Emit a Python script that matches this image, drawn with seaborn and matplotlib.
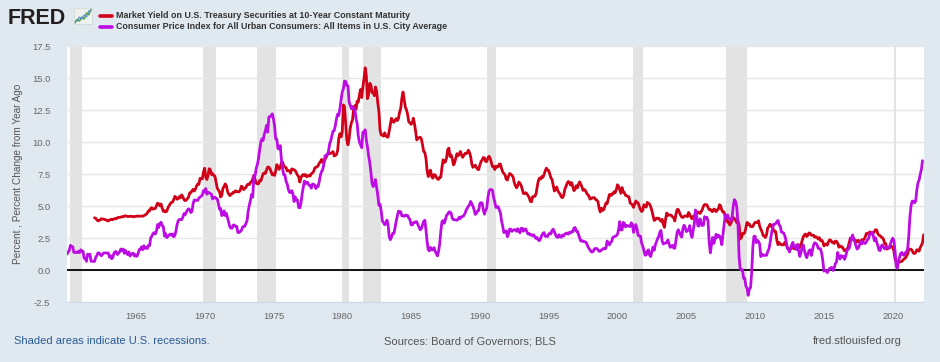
import matplotlib
matplotlib.use("Agg")
import matplotlib.pyplot as plt
import matplotlib.dates as mdates
from matplotlib.lines import Line2D
import numpy as np
import pandas as pd
import seaborn as sns

# monthly 10-year treasury yield, Jan 1962 .. Apr 2022 (peaks nudged to the daily highs seen in the chart)
gs10 = [
    4.08, 4.04, 3.93, 3.84, 3.87, 3.91, 4.01, 3.98, 3.98, 3.93, 3.92, 3.86,
    3.83, 3.92, 3.93, 3.97, 3.93, 3.99, 4.02, 4.00, 4.08, 4.11, 4.12, 4.13,
    4.17, 4.15, 4.22, 4.23, 4.20, 4.17, 4.19, 4.19, 4.20, 4.19, 4.15, 4.18,
    4.19, 4.21, 4.21, 4.20, 4.21, 4.21, 4.20, 4.25, 4.29, 4.35, 4.45, 4.62,
    4.61, 4.83, 4.87, 4.75, 4.78, 4.81, 5.02, 5.22, 5.18, 5.01, 5.16, 4.84,
    4.58, 4.63, 4.54, 4.59, 4.85, 5.02, 5.16, 5.28, 5.30, 5.48, 5.75, 5.70,
    5.53, 5.56, 5.74, 5.64, 5.87, 5.72, 5.50, 5.42, 5.46, 5.58, 5.70, 6.03,
    6.04, 6.19, 6.30, 6.17, 6.32, 6.57, 6.72, 6.69, 7.16, 7.10, 7.14, 7.65,
    7.95, 7.24, 7.07, 7.39, 7.91, 7.84, 7.46, 7.53, 7.39, 7.33, 6.84, 6.39,
    6.24, 6.11, 5.70, 5.83, 6.39, 6.52, 6.73, 6.58, 6.14, 5.93, 5.81, 5.93,
    5.95, 6.08, 6.07, 6.19, 6.13, 6.11, 6.11, 6.21, 6.55, 6.48, 6.28, 6.36,
    6.46, 6.64, 6.71, 6.67, 6.85, 6.90, 7.13, 7.40, 7.09, 6.79, 6.73, 6.74,
    6.99, 6.96, 7.21, 7.51, 7.58, 7.54, 7.81, 8.04, 8.04, 7.90, 7.68, 7.43,
    7.50, 7.39, 7.73, 8.23, 8.06, 7.86, 8.06, 8.40, 8.43, 8.14, 8.05, 8.00,
    7.74, 7.79, 7.73, 7.56, 7.90, 7.86, 7.83, 7.77, 7.59, 7.41, 7.29, 6.87,
    7.21, 7.39, 7.46, 7.37, 7.46, 7.28, 7.33, 7.40, 7.34, 7.52, 7.58, 7.69,
    7.96, 8.03, 8.04, 8.15, 8.35, 8.46, 8.64, 8.41, 8.42, 8.64, 8.81, 9.01,
    9.10, 9.10, 9.12, 9.18, 9.25, 8.91, 8.95, 9.03, 9.33, 10.30, 10.65, 10.39,
    10.80, 12.90, 12.75, 11.47, 10.18, 9.78, 10.25, 11.10, 11.51, 11.75, 12.68, 12.84,
    12.57, 13.19, 13.12, 13.68, 14.10, 13.47, 14.28, 14.94, 15.80, 15.15, 13.39, 13.72,
    14.59, 14.43, 13.86, 13.87, 13.62, 14.30, 13.95, 13.06, 12.34, 10.91, 10.55, 10.54,
    10.46, 10.72, 10.51, 10.40, 10.38, 10.85, 11.38, 11.85, 11.65, 11.54, 11.69, 11.83,
    11.67, 11.84, 12.32, 12.63, 13.41, 13.90, 13.36, 12.72, 12.52, 12.16, 11.57, 11.50,
    11.38, 11.51, 11.86, 11.43, 10.85, 10.16, 10.31, 10.33, 10.37, 10.24, 9.78, 9.26,
    9.19, 8.70, 7.78, 7.30, 7.71, 7.80, 7.30, 7.17, 7.45, 7.43, 7.25, 7.11,
    7.08, 7.25, 7.25, 8.02, 8.61, 8.40, 8.45, 8.76, 9.42, 9.52, 8.86, 8.99,
    8.67, 8.21, 8.37, 8.72, 9.09, 8.92, 9.06, 9.26, 8.98, 8.80, 8.96, 9.11,
    9.09, 9.17, 9.36, 9.18, 8.86, 8.28, 8.02, 8.11, 8.19, 8.01, 7.87, 7.84,
    8.21, 8.47, 8.59, 8.79, 8.76, 8.48, 8.47, 8.75, 8.89, 8.72, 8.39, 8.08,
    8.09, 7.85, 8.11, 8.04, 8.07, 8.28, 8.27, 7.90, 7.65, 7.53, 7.42, 7.09,
    7.03, 7.34, 7.54, 7.48, 7.39, 7.26, 6.84, 6.59, 6.42, 6.59, 6.87, 6.77,
    6.60, 6.26, 5.98, 5.97, 6.04, 5.96, 5.81, 5.68, 5.36, 5.33, 5.72, 5.77,
    5.75, 5.97, 6.48, 6.97, 7.18, 7.10, 7.30, 7.24, 7.46, 7.74, 7.96, 7.81,
    7.78, 7.47, 7.20, 7.06, 6.63, 6.17, 6.28, 6.49, 6.20, 6.04, 5.93, 5.71,
    5.65, 5.81, 6.27, 6.51, 6.74, 6.91, 6.87, 6.64, 6.83, 6.53, 6.20, 6.30,
    6.58, 6.42, 6.69, 6.89, 6.71, 6.49, 6.22, 6.30, 6.21, 6.03, 5.88, 5.81,
    5.54, 5.57, 5.65, 5.64, 5.65, 5.50, 5.46, 5.34, 4.81, 4.53, 4.83, 4.65,
    4.72, 5.00, 5.23, 5.18, 5.54, 5.90, 5.79, 5.94, 5.92, 6.11, 6.03, 6.28,
    6.66, 6.52, 6.26, 5.99, 6.44, 6.10, 6.05, 5.83, 5.80, 5.74, 5.72, 5.24,
    5.16, 5.10, 4.89, 5.14, 5.39, 5.28, 5.24, 4.97, 4.73, 4.57, 4.65, 5.09,
    5.04, 4.91, 5.28, 5.21, 5.16, 4.93, 4.65, 4.26, 3.87, 3.94, 4.05, 4.03,
    4.05, 3.90, 3.81, 3.96, 3.57, 3.33, 3.98, 4.45, 4.27, 4.29, 4.30, 4.27,
    4.15, 4.08, 3.83, 4.35, 4.72, 4.73, 4.50, 4.28, 4.13, 4.10, 4.19, 4.23,
    4.22, 4.17, 4.50, 4.34, 4.14, 4.00, 4.18, 4.26, 4.20, 4.46, 4.54, 4.47,
    4.42, 4.57, 4.72, 4.99, 5.11, 5.11, 5.09, 4.88, 4.72, 4.73, 4.60, 4.56,
    4.76, 4.72, 4.56, 4.69, 4.75, 5.10, 5.00, 4.67, 4.52, 4.53, 4.15, 4.10,
    3.74, 3.74, 3.51, 3.68, 3.88, 4.10, 4.01, 3.89, 3.69, 3.81, 3.53, 2.42,
    2.52, 2.87, 2.82, 2.93, 3.29, 3.72, 3.56, 3.59, 3.40, 3.39, 3.40, 3.59,
    3.73, 3.69, 3.73, 3.85, 3.42, 3.20, 3.01, 2.70, 2.65, 2.54, 2.76, 3.29,
    3.39, 3.58, 3.41, 3.46, 3.17, 3.00, 3.00, 2.30, 1.98, 2.15, 2.01, 1.98,
    1.97, 1.97, 2.17, 2.05, 1.80, 1.62, 1.53, 1.68, 1.72, 1.75, 1.65, 1.72,
    1.91, 1.98, 1.96, 1.76, 1.93, 2.30, 2.58, 2.74, 2.81, 2.62, 2.72, 2.90,
    2.86, 2.71, 2.72, 2.71, 2.56, 2.60, 2.54, 2.42, 2.53, 2.30, 2.33, 2.21,
    1.88, 1.98, 2.04, 1.94, 2.20, 2.36, 2.32, 2.17, 2.17, 2.07, 2.26, 2.24,
    2.09, 1.78, 1.89, 1.81, 1.81, 1.64, 1.50, 1.56, 1.63, 1.76, 2.14, 2.49,
    2.43, 2.42, 2.48, 2.30, 2.30, 2.19, 2.32, 2.21, 2.20, 2.36, 2.35, 2.40,
    2.58, 2.86, 2.84, 2.87, 2.98, 2.91, 2.89, 2.89, 3.00, 3.15, 3.12, 2.83,
    2.71, 2.68, 2.57, 2.53, 2.40, 2.07, 2.06, 1.63, 1.70, 1.71, 1.81, 1.86,
    1.76, 1.50, 0.87, 0.66, 0.67, 0.73, 0.62, 0.65, 0.68, 0.79, 0.87, 0.93,
    1.08, 1.26, 1.61, 1.64, 1.62, 1.52, 1.32, 1.28, 1.37, 1.58, 1.56, 1.47,
    1.76, 1.93, 2.13, 2.75,
]

# CPI, percent change from year ago, Jan 1960 .. Mar 2022
cpi_yoy = [
    1.24, 1.41, 1.52, 1.93, 1.82, 1.82, 1.37, 1.37, 1.37, 1.36, 1.47, 1.36,
    1.58, 1.47, 1.47, 0.92, 0.92, 0.68, 1.24, 1.13, 1.24, 0.68, 0.68, 0.68,
    0.67, 1.00, 1.11, 1.33, 1.33, 1.22, 1.11, 1.22, 1.33, 1.33, 1.33, 1.33,
    1.33, 1.00, 1.11, 0.88, 0.99, 1.32, 1.43, 1.43, 1.21, 1.32, 1.43, 1.64,
    1.53, 1.64, 1.31, 1.53, 1.31, 1.20, 1.41, 1.09, 1.19, 1.30, 1.30, 1.08,
    1.18, 1.07, 1.28, 1.60, 1.60, 1.81, 1.58, 1.90, 1.69, 1.79, 1.68, 1.92,
    1.91, 2.53, 2.63, 2.84, 2.92, 2.81, 3.03, 3.55, 3.33, 3.64, 3.73, 3.49,
    3.37, 2.65, 2.85, 2.53, 2.63, 2.73, 2.81, 2.71, 2.81, 2.60, 2.69, 3.05,
    3.55, 3.86, 3.95, 3.94, 3.93, 4.12, 4.41, 4.31, 4.50, 4.69, 4.78, 4.71,
    4.49, 4.60, 5.19, 5.47, 5.46, 5.43, 5.44, 5.62, 5.70, 5.77, 5.85, 6.20,
    6.09, 6.36, 5.92, 6.07, 6.04, 5.98, 5.91, 5.55, 5.64, 5.69, 5.60, 5.57,
    5.16, 4.75, 4.80, 4.25, 4.33, 4.62, 4.25, 4.42, 4.06, 3.70, 3.38, 3.27,
    3.27, 3.51, 3.51, 3.41, 3.41, 2.93, 2.93, 3.01, 3.08, 3.33, 3.42, 3.41,
    3.65, 3.87, 4.58, 5.07, 5.45, 5.91, 5.69, 7.38, 7.36, 7.94, 8.25, 8.71,
    9.39, 10.00, 10.24, 10.11, 10.58, 10.88, 11.29, 10.77, 11.95, 11.97, 12.06, 12.20,
    11.80, 11.23, 10.25, 10.21, 9.47, 9.47, 9.72, 8.60, 7.91, 7.44, 7.44, 6.94,
    6.72, 6.29, 6.07, 6.05, 6.20, 5.97, 5.35, 5.71, 5.49, 5.46, 4.88, 4.86,
    5.21, 5.96, 6.44, 6.95, 6.73, 6.87, 6.83, 6.62, 6.60, 6.39, 6.72, 6.70,
    6.62, 6.36, 6.57, 6.52, 6.92, 7.41, 7.70, 7.83, 8.31, 8.93, 8.92, 9.02,
    9.28, 9.86, 10.09, 10.49, 10.85, 10.89, 11.26, 11.82, 12.18, 12.07, 12.61, 13.29,
    13.91, 14.18, 14.76, 14.73, 14.41, 14.38, 13.13, 12.87, 12.60, 12.77, 12.65, 12.52,
    11.83, 11.41, 10.49, 10.00, 9.78, 9.55, 10.76, 10.80, 10.95, 10.14, 9.59, 8.92,
    8.39, 7.62, 6.78, 6.51, 6.68, 7.06, 6.44, 5.85, 5.04, 5.14, 4.59, 3.83,
    3.71, 3.53, 3.61, 3.90, 3.55, 2.58, 2.36, 2.58, 2.86, 2.85, 3.27, 3.79,
    4.19, 4.60, 4.48, 4.56, 4.23, 4.22, 4.20, 4.29, 4.27, 4.26, 4.05, 3.95,
    3.53, 3.52, 3.70, 3.69, 3.77, 3.77, 3.55, 3.35, 3.14, 3.23, 3.51, 3.80,
    3.89, 3.11, 2.26, 1.59, 1.49, 1.77, 1.58, 1.57, 1.75, 1.47, 1.28, 1.10,
    1.46, 2.10, 3.03, 3.78, 3.86, 3.65, 3.93, 4.28, 4.36, 4.53, 4.53, 4.43,
    4.03, 3.93, 3.93, 3.91, 3.89, 3.96, 4.13, 4.02, 4.17, 4.17, 4.25, 4.42,
    4.67, 4.83, 4.98, 5.10, 5.36, 5.17, 4.98, 4.71, 4.34, 4.45, 4.61, 4.65,
    5.20, 5.26, 5.23, 4.71, 4.36, 4.67, 4.82, 5.62, 6.16, 6.29, 6.27, 6.25,
    5.65, 5.31, 4.90, 4.89, 4.95, 4.70, 4.45, 3.80, 3.39, 2.92, 2.99, 3.06,
    2.60, 2.82, 3.20, 3.18, 3.02, 3.09, 3.16, 3.14, 3.02, 3.23, 3.05, 2.90,
    3.26, 3.25, 3.03, 3.16, 3.21, 2.99, 2.81, 2.85, 2.73, 2.77, 2.67, 2.75,
    2.56, 2.47, 2.54, 2.34, 2.29, 2.47, 2.70, 2.87, 2.92, 2.63, 2.65, 2.61,
    2.81, 2.89, 2.81, 3.10, 3.19, 3.00, 2.76, 2.58, 2.55, 2.76, 2.61, 2.56,
    2.73, 2.65, 2.80, 2.86, 2.89, 2.80, 2.94, 2.89, 3.00, 2.98, 3.27, 3.32,
    3.04, 3.03, 2.78, 2.50, 2.26, 2.30, 2.22, 2.22, 2.20, 2.10, 1.86, 1.70,
    1.57, 1.43, 1.40, 1.47, 1.67, 1.67, 1.68, 1.57, 1.46, 1.47, 1.57, 1.62,
    1.69, 1.64, 1.72, 2.26, 2.09, 1.96, 2.13, 2.25, 2.56, 2.59, 2.63, 2.68,
    2.79, 3.19, 3.78, 3.13, 3.13, 3.72, 3.65, 3.36, 3.49, 3.46, 3.42, 3.39,
    3.69, 3.57, 2.94, 3.27, 3.55, 3.23, 2.71, 2.66, 2.65, 2.12, 1.87, 1.55,
    1.16, 1.17, 1.47, 1.58, 1.16, 1.05, 1.45, 1.79, 1.54, 1.97, 2.20, 2.46,
    2.62, 2.97, 3.09, 2.24, 2.03, 2.10, 2.10, 2.17, 2.35, 2.04, 1.77, 1.86,
    1.93, 1.71, 1.70, 2.30, 2.92, 3.15, 2.96, 2.70, 2.57, 3.21, 3.50, 3.33,
    3.00, 3.08, 3.11, 3.47, 2.85, 2.55, 3.08, 3.63, 4.69, 4.32, 3.46, 3.43,
    3.99, 3.64, 3.47, 3.51, 4.17, 4.06, 4.12, 3.80, 2.13, 1.34, 2.03, 2.54,
    2.08, 2.40, 2.79, 2.55, 2.72, 2.66, 2.45, 1.98, 2.76, 3.52, 4.33, 4.08,
    4.30, 4.07, 3.98, 3.84, 4.15, 5.02, 5.50, 5.34, 4.92, 3.72, 1.04, 0.09,
    -0.01, 0.02, -0.64, -0.65, -1.26, -1.42, -1.98, -1.48, -1.38, -0.23, 1.79, 2.63,
    2.63, 2.14, 2.31, 2.24, 2.02, 1.05, 1.24, 1.15, 1.14, 1.17, 1.14, 1.44,
    1.63, 2.11, 2.68, 3.16, 3.57, 3.56, 3.63, 3.77, 3.87, 3.53, 3.39, 2.96,
    2.93, 2.87, 2.65, 2.30, 1.70, 1.66, 1.41, 1.69, 1.99, 2.16, 1.76, 1.74,
    1.60, 1.98, 1.47, 1.06, 1.36, 1.75, 1.96, 1.52, 1.18, 0.96, 1.24, 1.50,
    1.58, 1.13, 1.51, 1.95, 2.13, 2.07, 1.99, 1.70, 1.66, 1.66, 1.32, 0.76,
    -0.09, -0.02, -0.07, -0.20, -0.04, 0.12, 0.17, 0.20, -0.04, 0.17, 0.50, 0.65,
    1.37, 1.02, 0.85, 1.13, 1.02, 1.08, 0.83, 1.08, 1.46, 1.64, 1.69, 2.07,
    2.50, 2.74, 2.38, 2.20, 1.87, 1.63, 1.73, 1.94, 2.23, 2.04, 2.20, 2.11,
    2.07, 2.21, 2.36, 2.46, 2.80, 2.87, 2.95, 2.70, 2.28, 2.52, 2.18, 1.91,
    1.55, 1.52, 1.86, 1.96, 1.79, 1.65, 1.81, 1.75, 1.71, 1.76, 2.05, 2.29,
    2.49, 2.33, 1.54, 0.33, 0.12, 0.65, 1.00, 1.31, 1.37, 1.18, 1.14, 1.36,
    1.40, 1.68, 2.62, 4.16, 4.99, 5.39, 5.37, 5.25, 5.39, 6.24, 6.81, 7.04,
    7.48, 7.87, 8.54,
]

recession_start = ["1960-04-01", "1969-12-01", "1973-11-01", "1980-01-01", "1981-07-01",
                   "1990-07-01", "2001-03-01", "2007-12-01", "2020-02-01"]
recession_end = ["1961-02-01", "1970-11-01", "1975-03-01", "1980-07-01", "1982-11-01",
                 "1991-03-01", "2001-11-01", "2009-06-01", "2020-04-01"]

name_gs10 = "Market Yield on U.S. Treasury Securities at 10-Year Constant Maturity"
name_cpi = "Consumer Price Index for All Urban Consumers: All Items in U.S. City Average"
red = "#d10019"
purple = "#bd0be3"
bg = "#e1e9f0"

df = pd.concat([
    pd.DataFrame({"date": pd.date_range("1962-01-01", periods=len(gs10), freq="MS"),
                  "value": gs10, "series": name_gs10}),
    pd.DataFrame({"date": pd.date_range("1960-01-01", periods=len(cpi_yoy), freq="MS"),
                  "value": cpi_yoy, "series": name_cpi}),
])

sns.set_style("white")
plt.rcParams["font.family"] = ["Liberation Sans", "DejaVu Sans"]

fig = plt.figure(figsize=(9.4, 3.62), dpi=100, facecolor=bg)
ax = fig.add_axes([67 / 940, 60 / 362, 857 / 940, 256 / 362])
ax.set_facecolor("white")

for s, e in zip(recession_start, recession_end):
    ax.axvspan(pd.Timestamp(s), pd.Timestamp(e), color="#e3e3e3", lw=0, zorder=0)

sns.lineplot(data=df, x="date", y="value", hue="series",
             palette={name_gs10: red, name_cpi: purple},
             linewidth=2.0, legend=False, ax=ax, zorder=3)
ax.axhline(0, color="black", lw=1.3, zorder=2)

ax.set_ylim(-2.5, 17.5)
ax.set_yticks(np.arange(-2.5, 17.6, 2.5))
ax.yaxis.set_major_formatter(plt.FormatStrFormatter("%.1f"))
ax.set_xlim(pd.Timestamp("1960-01-01"), pd.Timestamp("2022-04-10"))
ax.set_xticks([pd.Timestamp(f"{y}-01-01") for y in range(1965, 2021, 5)])
ax.xaxis.set_major_formatter(mdates.DateFormatter("%Y"))
ax.grid(axis="y", color="#e6e6e6", lw=1, zorder=1)
ax.set_axisbelow(True)
for side in ["top", "right", "left"]:
    ax.spines[side].set_visible(False)
ax.spines["bottom"].set_color("#ccd6eb")
ax.tick_params(axis="y", length=0, pad=12, labelsize=6.8, labelcolor="#666666")
ax.tick_params(axis="x", length=6, width=1, color="#ccd6eb", pad=1,
               labelsize=6.8, labelcolor="#666666")
ax.set_xlabel("")
ax.set_ylabel("Percent , Percent Change from Year Ago", fontsize=7.2, color="#555555", labelpad=6)

# header: logo and legend
fig.text(8 / 940, 1 - 18 / 362, "FRED", fontsize=15.5, fontweight="heavy", color="#231f20",
         va="center", ha="left")
logo = fig.add_axes([74 / 940, 1 - 24 / 362, 18 / 940, 16 / 362])
logo.set_facecolor("#eef2ee")
logo_trend = [1, 3, 2, 4, 3, 6, 5, 8]
logo_trend2 = [2, 2, 4, 3, 5, 4, 7, 7]
logo.plot(logo_trend, color="#4a9a3c", lw=0.9)
logo.plot(logo_trend2, color="#5b8fc8", lw=0.9)
logo.set_xticks([])
logo.set_yticks([])
for sp in logo.spines.values():
    sp.set_color("#cfd8cf")
    sp.set_linewidth(0.5)

for i, (label, col) in enumerate([(name_gs10, red), (name_cpi, purple)]):
    yy = 1 - (15.5 + 11 * i) / 362
    fig.add_artist(Line2D([100 / 940, 112 / 940], [yy, yy], color=col, lw=2.6,
                          transform=fig.transFigure))
    fig.text(116 / 940, yy, label, fontsize=6.4, fontweight="bold", color="#333333",
             va="center", ha="left")

# footer
fig.text(14 / 940, 1 - 341 / 362, "Shaded areas indicate U.S. recessions.", fontsize=8,
         color="#2a5a96", va="center", ha="left")
fig.text(470 / 940, 1 - 341 / 362, "Sources: Board of Governors; BLS", fontsize=8,
         color="#555555", va="center", ha="center")
fig.text(902 / 940, 1 - 341 / 362, "fred.stlouisfed.org", fontsize=8,
         color="#555555", va="center", ha="right")

fig.savefig("out.png", dpi=100, facecolor=bg)
